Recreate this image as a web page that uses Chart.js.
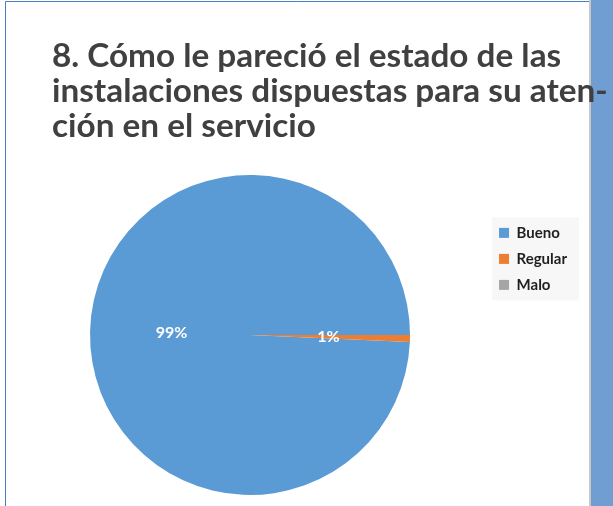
<!DOCTYPE html>
<html>
<head>
<meta charset="utf-8">
<script src="https://cdn.jsdelivr.net/npm/chart.js@4.4.1/dist/chart.umd.min.js"></script>
<style>
  html, body { margin: 0; padding: 0; background: #fff; }
</style>
</head>
<body>
<canvas id="myChart" width="613" height="506"></canvas>
<script>
const titulo = ['8. Cómo le pareció el estado de las', 'instalaciones dispuestas para su aten-', 'ción en el servicio'];
const categorias = ['Bueno', 'Regular', 'Malo'];
const porcentajes = [99.3, 0.7, 0];
const colores = ['#5b9bd5', '#ed7d31', '#a5a5a5'];

// tamaño del título ajustado al ancho de la segunda línea
function tamTitulo() {
    const c = document.createElement('canvas').getContext('2d');
    c.font = 'bold 30px Lato';
    const w = c.measureText(titulo[1]).width;
    return 30 * 556 / w;
}

const total = porcentajes.reduce((a, b) => a + b, 0);
const giro = 90 - 360 * porcentajes[0] / total;

const fondo = {
    id: 'fondo',
    beforeDraw(chart) {
        const { ctx, width, height } = chart;
        ctx.save();
        ctx.fillStyle = '#fff';
        ctx.fillRect(0, 0, width, height);
        ctx.fillStyle = '#709dd2';
        ctx.fillRect(590, 0, width - 590, height);
        ctx.fillStyle = '#c8c8c8';
        ctx.fillRect(589, 0, 2, height);
        ctx.strokeStyle = '#4a7cc4';
        ctx.lineWidth = 1;
        ctx.beginPath();
        ctx.moveTo(5.5, height);
        ctx.lineTo(5.5, 1.5);
        ctx.lineTo(589, 1.5);
        ctx.stroke();

        const cajas = chart.legend ? chart.legend.legendHitBoxes : [];
        if (cajas.length) {
            let x0 = Infinity, y0 = Infinity, x1 = -Infinity, y1 = -Infinity;
            cajas.forEach(b => {
                x0 = Math.min(x0, b.left); y0 = Math.min(y0, b.top);
                x1 = Math.max(x1, b.left + b.width); y1 = Math.max(y1, b.top + b.height);
            });
            ctx.fillStyle = '#f7f7f7';
            ctx.fillRect(x0 - 7, y0 - 8, x1 - x0 + 19, y1 - y0 + 16);
        }
        ctx.restore();
    },
    afterLayout(chart) {
        // mover el título a su sangría
        const t = chart.titleBlock;
        t.left += 40;
        t.right += 40;
    }
};

const etiquetas = {
    id: 'etiquetas',
    afterDatasetsDraw(chart) {
        const ctx = chart.ctx;
        const meta = chart.getDatasetMeta(0);
        ctx.save();
        ctx.font = 'bold 16px Lato';
        ctx.fillStyle = '#fff';
        ctx.textAlign = 'center';
        ctx.textBaseline = 'middle';
        meta.data.forEach((arc, i) => {
            if (!porcentajes[i]) return;
            const p = arc.getProps(['x', 'y', 'startAngle', 'endAngle', 'outerRadius'], true);
            const a = (p.startAngle + p.endAngle) / 2;
            const r = p.outerRadius * 0.49;
            ctx.fillText(Math.round(porcentajes[i] / total * 100) + '%', p.x + Math.cos(a) * r, p.y + Math.sin(a) * r);
        });
        ctx.restore();
    }
};

new Chart(document.getElementById('myChart'), {
    type: 'pie',
    data: {
        labels: categorias,
        datasets: [{
            data: porcentajes,
            backgroundColor: colores,
            borderWidth: 0
        }]
    },
    options: {
        responsive: false,
        animation: false,
        rotation: giro,
        layout: { padding: { top: 0, left: 12, right: 36, bottom: 11 } },
        plugins: {
            tooltip: { enabled: false },
            title: {
                display: true,
                text: titulo,
                align: 'start',
                color: '#404040',
                font: { family: 'Lato', size: tamTitulo(), weight: 'bold', lineHeight: '35px' },
                padding: { top: 39, bottom: 31 }
            },
            legend: {
                position: 'right',
                align: 'start',
                fullSize: false,
                title: { display: true, text: '', padding: { top: 25, bottom: 0 }, font: { size: 12 } },
                labels: {
                    boxWidth: 10,
                    boxHeight: 10,
                    padding: 11,
                    color: '#1f1f1f',
                    font: { family: 'Lato', size: 15, weight: 'bold' }
                }
            }
        }
    },
    plugins: [fondo, etiquetas]
});
</script>
</body>
</html>
